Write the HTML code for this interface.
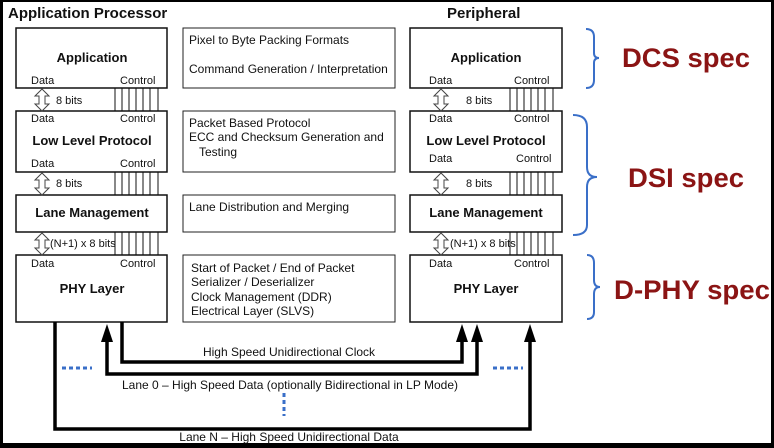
<!DOCTYPE html>
<html><head><style>
html,body{margin:0;padding:0;background:#000;}
svg{display:block;}
text{font-family:"Liberation Sans",sans-serif;fill:#111;}
</style></head><body>
<svg width="774" height="448" viewBox="0 0 774 448" xmlns="http://www.w3.org/2000/svg">
<rect x="0" y="0" width="774" height="448" fill="#000"/>
<rect x="3" y="2" width="768" height="441" fill="#fff"/>
<text x="8" y="18" font-size="15" font-weight="bold">Application Processor</text>
<text x="447" y="18" font-size="15" font-weight="bold">Peripheral</text>

<g fill="none" stroke="#111" stroke-width="1.5">
<rect x="16" y="28" width="151" height="60"/>
<rect x="16" y="111" width="151" height="61"/>
<rect x="16" y="195" width="151" height="37"/>
<rect x="16" y="255" width="151" height="67"/>
<rect x="410" y="28" width="152" height="60"/>
<rect x="410" y="111" width="152" height="61"/>
<rect x="410" y="195" width="152" height="37"/>
<rect x="410" y="255" width="152" height="67"/>
</g>
<g fill="none" stroke="#222" stroke-width="1">
<rect x="183" y="28" width="212" height="60"/>
<rect x="183" y="111" width="212" height="61"/>
<rect x="183" y="195" width="212" height="37"/>
<rect x="183" y="255" width="212" height="67"/>
</g>
<g stroke="#111" stroke-width="1">
<path d="M115 88V111M122 88V111M129 88V111M136 88V111M143 88V111M150 88V111M158 88V111"/>
<path d="M115 172V195M122 172V195M129 172V195M136 172V195M143 172V195M150 172V195M158 172V195"/>
<path d="M115 232V255M122 232V255M129 232V255M136 232V255M143 232V255M150 232V255M158 232V255"/>
<path d="M510 88V111M517 88V111M524 88V111M531 88V111M538 88V111M545 88V111M553 88V111"/>
<path d="M510 172V195M517 172V195M524 172V195M531 172V195M538 172V195M545 172V195M553 172V195"/>
<path d="M510 232V255M517 232V255M524 232V255M531 232V255M538 232V255M545 232V255M553 232V255"/>
</g>
<g fill="#fff" stroke="#444" stroke-width="1">
<path d="M42 89l-7 7h4v8h-4l7 7 7-7h-4v-8h4z"/>
<path d="M42 173l-7 7h4v8h-4l7 7 7-7h-4v-8h4z"/>
<path d="M42 233l-7 7h4v8h-4l7 7 7-7h-4v-8h4z"/>
<path d="M441 89l-7 7h4v8h-4l7 7 7-7h-4v-8h4z"/>
<path d="M441 173l-7 7h4v8h-4l7 7 7-7h-4v-8h4z"/>
<path d="M441 233l-7 7h4v8h-4l7 7 7-7h-4v-8h4z"/>
</g>
<g font-size="11">
<text x="56" y="104">8 bits</text><text x="56" y="187">8 bits</text><text x="50" y="247">(N+1) x 8 bits</text>
<text x="466" y="104">8 bits</text><text x="466" y="187">8 bits</text><text x="450" y="247">(N+1) x 8 bits</text>
<text x="31" y="84">Data</text><text x="120" y="84">Control</text>
<text x="31" y="122">Data</text><text x="120" y="122">Control</text>
<text x="31" y="167">Data</text><text x="120" y="167">Control</text>
<text x="31" y="267">Data</text><text x="120" y="267">Control</text>
<text x="429" y="84">Data</text><text x="514" y="84">Control</text>
<text x="429" y="122">Data</text><text x="514" y="122">Control</text>
<text x="429" y="162">Data</text><text x="516" y="162">Control</text>
<text x="429" y="267">Data</text><text x="514" y="267">Control</text>
</g>
<g font-size="13" font-weight="bold" text-anchor="middle">
<text x="92" y="62">Application</text><text x="92" y="145">Low Level Protocol</text>
<text x="92" y="217">Lane Management</text><text x="92" y="293">PHY Layer</text>
<text x="486" y="62">Application</text><text x="486" y="145">Low Level Protocol</text>
<text x="486" y="217">Lane Management</text><text x="486" y="293">PHY Layer</text>
</g>
<g font-size="12">
<text x="189" y="44">Pixel to Byte Packing Formats</text>
<text x="189" y="73">Command Generation / Interpretation</text>
<text x="189" y="127">Packet Based Protocol</text>
<text x="189" y="141">ECC and Checksum Generation and</text>
<text x="199" y="156">Testing</text>
<text x="189" y="211">Lane Distribution and Merging</text>
<text x="191" y="272">Start of Packet / End of Packet</text>
<text x="191" y="286">Serializer / Deserializer</text>
<text x="191" y="301">Clock Management (DDR)</text>
<text x="191" y="315">Electrical Layer (SLVS)</text>
<text x="289" y="356" text-anchor="middle">High Speed Unidirectional Clock</text>
<text x="290" y="389" text-anchor="middle">Lane 0 – High Speed Data (optionally Bidirectional in LP Mode)</text>
<text x="289" y="441" text-anchor="middle">Lane N – High Speed Unidirectional Data</text>
</g>
<g fill="none" stroke="#000" stroke-width="3.5">
<path d="M55 322V429H530V338"/>
<path d="M107 338V374H477V338"/>
<path d="M122 322V362H462V338"/>
</g>
<g fill="#000">
<path d="M107 324l-6 18h12z"/><path d="M462 324l-6 18h12z"/><path d="M477 324l-6 18h12z"/><path d="M530 324l-6 18h12z"/>
</g>
<g stroke="#3a6fc8" stroke-width="3" stroke-dasharray="4 3">
<path d="M62 368H92"/><path d="M493 368H523"/><path d="M284 393V416"/>
</g>
<g fill="none" stroke="#3a6fc8" stroke-width="2">
<path d="M586 29q8 0 8 8v16q0 5 5 5q-5 0-5 5v17q0 8-8 8"/>
<path d="M573 115q14 0 14 12v40q0 10 10 10q-10 0-10 10v38q0 10-14 10"/>
<path d="M587 255q7 0 7 8v17q0 7 6 7q-6 0-6 7v18q0 7-7 7"/>
</g>
<g font-size="27" font-weight="bold">
<text x="622" y="67" style="fill:#8b1414" textLength="128" lengthAdjust="spacingAndGlyphs">DCS spec</text>
<text x="628" y="187" style="fill:#8b1414" textLength="116" lengthAdjust="spacingAndGlyphs">DSI spec</text>
<text x="614" y="299" style="fill:#8b1414" textLength="156" lengthAdjust="spacingAndGlyphs">D-PHY spec</text>
</g>
</svg>
</body></html>
